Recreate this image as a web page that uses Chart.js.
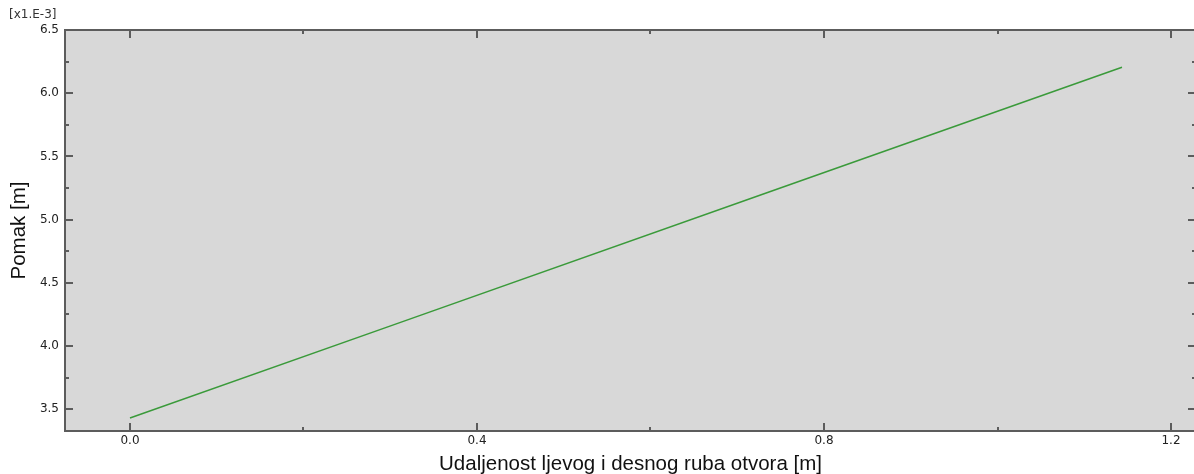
<!DOCTYPE html>
<html lang="hr">
<head>
    <meta charset="UTF-8">
    <title>Pomak</title>
    <style>
        body {
            margin: 0;
            overflow: hidden;
            background: #fff;
        }
        .wrap {
            position: relative;
            width: 1197px;
            height: 474px;
        }
        .expo {
            position: absolute;
            left: 9px;
            top: 7px;
            font: 12px "DejaVu Sans", sans-serif;
            color: #333;
        }
    </style>
</head>
<body>
    <div class="wrap">
        <canvas id="chart"></canvas>
        <div class="expo">[x1.E-3]</div>
    </div>

    <script src="https://cdn.jsdelivr.net/npm/chart.js"></script>
    <script>
        // udaljenost [m] i pomak [x1e-3 m], ocitano sa slike
        const udaljenost = [0.0, 0.311, 0.726, 1.1435];
        const pomak = [3.43, 4.185, 5.192, 6.205];

        const xTicks = [0.0, 0.2, 0.4, 0.6, 0.8, 1.0, 1.2];   // 0.2 su male oznake
        const yTicks = [3.5, 3.75, 4.0, 4.25, 4.5, 4.75, 5.0, 5.25, 5.5, 5.75, 6.0, 6.25, 6.5];

        const isMajor = (v, step) => Math.abs(v / step - Math.round(v / step)) < 1e-6;

        const frame = {
            id: 'frame',
            beforeDraw(chart) {
                const a = chart.chartArea;
                const ctx = chart.ctx;
                ctx.save();
                ctx.fillStyle = '#d8d8d8';
                ctx.fillRect(a.left, a.top, a.right - a.left, a.bottom - a.top);
                ctx.restore();
            },
            afterDraw(chart) {
                const a = chart.chartArea;
                const ctx = chart.ctx;
                const xs = chart.scales.x, ys = chart.scales.y;
                ctx.save();
                ctx.strokeStyle = '#5c5c5c';
                ctx.lineWidth = 2;
                ctx.strokeRect(a.left, a.top, a.right - a.left, a.bottom - a.top);
                ctx.beginPath();
                xs.ticks.forEach(t => {
                    const px = Math.round(xs.getPixelForValue(t.value));
                    const len = isMajor(t.value, 0.4) ? 8 : 4;
                    ctx.moveTo(px, a.bottom); ctx.lineTo(px, a.bottom - len);
                    ctx.moveTo(px, a.top); ctx.lineTo(px, a.top + len);
                });
                ys.ticks.forEach(t => {
                    const py = Math.round(ys.getPixelForValue(t.value));
                    const len = isMajor(t.value, 0.5) ? 8 : 4;
                    ctx.moveTo(a.left, py); ctx.lineTo(a.left + len, py);
                    ctx.moveTo(a.right, py); ctx.lineTo(a.right - len, py);
                });
                ctx.stroke();
                ctx.restore();
            }
        };

        new Chart(document.getElementById('chart'), {
            type: 'scatter',
            data: {
                datasets: [{
                    data: udaljenost.map((x, i) => ({ x: x, y: pomak[i] })),
                    showLine: true,
                    borderColor: '#3a9a3a',
                    borderWidth: 1.5,
                    pointRadius: 0,
                    fill: false
                }]
            },
            options: {
                responsive: true,
                maintainAspectRatio: false,
                animation: false,
                layout: { padding: { top: 30, left: 0, right: 1, bottom: 0 } },
                plugins: {
                    legend: { display: false },
                    tooltip: { enabled: false }
                },
                scales: {
                    x: {
                        type: 'linear',
                        min: -0.0749,
                        max: 1.2288,
                        afterBuildTicks: s => { s.ticks = xTicks.map(v => ({ value: v })); },
                        afterFit: s => { s.height = 43; },
                        grid: { display: false, drawTicks: false },
                        border: { display: false },
                        ticks: {
                            padding: 3,
                            maxRotation: 0,
                            autoSkip: false,
                            color: '#222',
                            font: { family: 'DejaVu Sans', size: 12 },
                            callback: v => isMajor(v, 0.4) ? v.toFixed(1) : ''
                        },
                        title: {
                            display: true,
                            text: 'Udaljenost ljevog i desnog ruba otvora [m]',
                            color: '#111',
                            padding: { top: 0, bottom: -3 },
                            font: { family: 'Liberation Sans', size: 20.5 }
                        }
                    },
                    y: {
                        type: 'linear',
                        min: 3.3275,
                        max: 6.5,
                        afterBuildTicks: s => { s.ticks = yTicks.map(v => ({ value: v })); },
                        afterFit: s => { s.width = 65; },
                        grid: { display: false, drawTicks: false },
                        border: { display: false },
                        ticks: {
                            padding: 6,
                            autoSkip: false,
                            color: '#222',
                            font: { family: 'DejaVu Sans', size: 12 },
                            callback: v => isMajor(v, 0.5) ? v.toFixed(1) : ''
                        },
                        title: {
                            display: true,
                            text: 'Pomak [m]',
                            color: '#111',
                            padding: { top: 7, bottom: 0 },
                            font: { family: 'Liberation Sans', size: 20.5 }
                        }
                    }
                }
            },
            plugins: [frame]
        });
    </script>
</body>
</html>
